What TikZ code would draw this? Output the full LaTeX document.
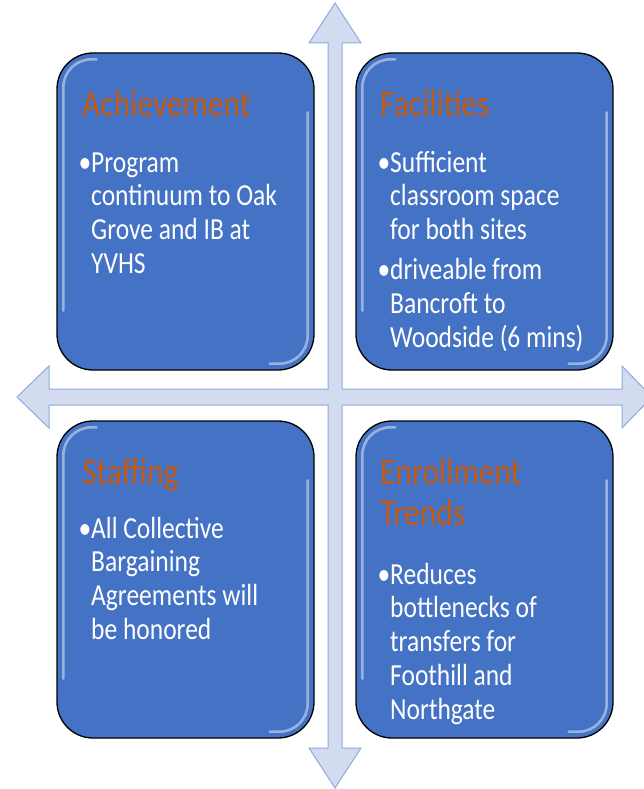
\documentclass[tikz,border=0pt]{standalone}
\usepackage{fontspec}
\setmainfont{Carlito}
\usepackage{graphicx}
\usetikzlibrary{calc}
\definecolor{boxblue}{HTML}{4472C4}
\definecolor{titleorange}{HTML}{C55A11}
\definecolor{arrowfill}{HTML}{D3DBF0}
\definecolor{arrowline}{HTML}{8FAADC}
\newcommand{\stretchlines}[1]{\scalebox{1}[1.2]{\begin{tabular}[t]{@{}l@{}}#1\end{tabular}}}
\newcommand{\bul}{\llap{•}}
\begin{document}
\begin{tikzpicture}[x=1pt,y=-1pt,
  box/.style={draw=black, line width=1.3pt, fill=boxblue, rounded corners=36pt,
    minimum width=257pt, minimum height=317pt, inner sep=0pt},
  hl/.style={draw=white, opacity=0.45, line width=2.6pt, line cap=round, rounded corners=28pt},
  titletext/.style={anchor=base west, inner sep=0pt, text=titleorange, font=\fontsize{31.5}{34.2}\selectfont},
  bodytext/.style={anchor=base west, inner sep=0pt, text=white, font=\fontsize{25.5}{28.3}\selectfont},
  crossarrow/.style={fill=arrowfill, draw=arrowline, line width=1pt, line join=miter}]
\useasboundingbox (0,0) rectangle (644,789);
\clip (0,0) rectangle (644,789);
% cross arrow
\draw[crossarrow] (335,3) -- (361,43) -- (342,43) -- (342,389) -- (622,389) -- (622,366) -- (652,397)
  -- (622,428) -- (622,405) -- (342,405) -- (342,748) -- (361,748) -- (335,788) -- (309,748)
  -- (328,748) -- (328,405) -- (49,405) -- (49,428) -- (17,397) -- (49,366) -- (49,389)
  -- (328,389) -- (328,43) -- (309,43) -- cycle;
% boxes
\node[box] (ach) at (185.5,211.5) {};
\node[box] (fac) at (484.5,211.5) {};
\node[box] (sta) at (185.5,579.5) {};
\node[box] (enr) at (484.5,579.5) {};
\foreach \b in {ach,fac,sta,enr}{
  \draw[hl] ($(\b.north west)+(40,7)$) -- ($(\b.north west)+(7,7)$) -- ($(\b.south west)+(7,-60)$);
  \draw[hl] ($(\b.north east)+(-7,60)$) -- ($(\b.south east)+(-7,-7)$) -- ($(\b.south east)+(-45,-7)$);
}
% texts
\node[titletext] (achT) at (82,117) {\stretchlines{Achievement}};
\node[bodytext] (achB) at (91,172) {\stretchlines{\bul Program\\continuum to Oak\\Grove and IB at\\YVHS}};
\node[titletext] (facT) at (380,117) {\stretchlines{Facilities}};
\node[bodytext] (facB) at (390,172) {\stretchlines{\bul Sufficient\\classroom space\\for both sites\\[5pt]\bul driveable from\\Bancroft to\\Woodside (6 mins)}};
\node[titletext] (staT) at (82,484) {\stretchlines{Staffing}};
\node[bodytext] (staB) at (91,538) {\stretchlines{\bul All Collective\\Bargaining\\Agreements will\\be honored}};
\node[titletext] (enrT) at (380,484) {\stretchlines{Enrollment\\Trends}};
\node[bodytext] (enrB) at (390,584) {\stretchlines{\bul Reduces\\bottlenecks of\\transfers for\\Foothill and\\Northgate}};
\end{tikzpicture}
\end{document}
